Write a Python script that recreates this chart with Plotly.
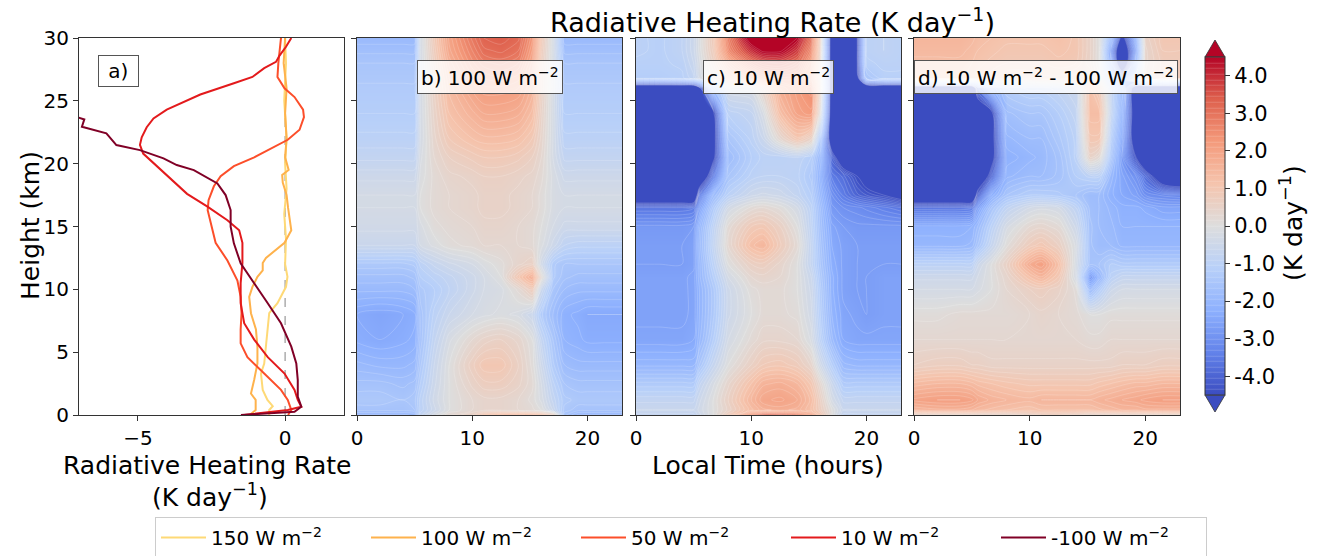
import plotly.graph_objects as go

W, H = 1320, 556
def px(x): return x / W
def py(y): return 1 - y / H

# ---------------- Panel a: profiles ----------------
rate_150 = [-0.54, -0.54, -0.42, -0.6, -0.76, -0.82, -0.71, -0.65, -0.59, -0.54, -0.26, 0.03, 0.08, 0.0, 0.03, -0.03, 0.05, 0.0, 0.05, -0.03, 0.03, 0.0]
height_150 = [0, 0.4, 0.7, 1.2, 2.0, 3.3, 4.1, 5.4, 6.8, 8.1, 8.9, 10.2, 11, 12, 14, 16, 18, 20, 22, 25, 28, 30]

rate_100 = [-1.2, -1.0, -1.0, -1.16, -1.05, -0.94, -0.94, -0.99, -1.16, -1.22, -1.11, -0.94, -0.76, -0.76, -0.65, -0.37, -0.02, 0.21, 0.15, 0.1, 0.05, -0.08, -0.1, 0.12, 0.0, 0.05, 0.0, 0.05, -0.05, 0.0]
height_100 = [0, 0.4, 1.2, 1.7, 2.8, 4.1, 5.4, 6.8, 8.1, 9.4, 10.2, 11.0, 11.5, 12.1, 12.5, 13.0, 13.7, 14.7, 15.5, 16.5, 17.5, 18.5, 19.1, 19.5, 20.5, 22, 24, 26, 28, 30]

rate_50 = [0.1, 0.21, 0.09, -0.14, -0.71, -1.28, -1.51, -1.51, -1.48, -1.51, -1.62, -1.96, -2.36, -2.53, -2.63, -2.6, -2.42, -2.19, -1.74, -1.05, -0.37, 0.09, 0.49, 0.64, 0.61, 0.32, -0.02, -0.26, -0.23, -0.14]
height_50 = [0, 0.4, 1.2, 2.0, 3.3, 4.6, 5.7, 6.8, 8.1, 9.4, 10.7, 12.3, 13.7, 15.3, 16.3, 17.1, 18.2, 19.0, 19.8, 20.5, 21.3, 21.9, 22.7, 23.7, 24.3, 25.3, 26.0, 26.9, 28.0, 30.0]

rate_10 = [-1.39, 0.09, 0.55, 0.43, 0.32, -0.02, -0.59, -1.05, -1.39, -1.51, -1.51, -1.45, -1.45, -1.56, -1.96, -2.65, -3.33, -3.90, -4.47, -4.82, -4.93, -4.87, -4.70, -4.47, -4.02, -2.88, -1.74, -1.11, -0.71, -0.31, -0.19, 0.03, 0.21]
height_10 = [0, 0.4, 0.66, 1.2, 2.0, 3.3, 4.6, 6.0, 7.3, 8.9, 10.5, 12.1, 13.7, 14.7, 15.5, 16.6, 17.6, 18.8, 20.0, 20.8, 21.5, 22.1, 22.9, 23.6, 24.3, 25.5, 26.4, 26.9, 27.6, 28.1, 28.6, 29.3, 30.0]

rate_m100 = [-1.5, 0.32, 0.55, 0.43, 0.43, 0.38, 0.21, -0.14, -0.59, -1.05, -1.51, -1.74, -1.85, -1.85, -2.02, -2.3, -3.1, -3.68, -4.13, -4.93, -5.73, -6.07, -6.9, -6.82, -7.03, -8.2, -9.0]
height_m100 = [0, 0.26, 0.66, 1.46, 2.78, 4.11, 5.44, 7.30, 8.89, 10.48, 12.07, 13.66, 14.98, 16.31, 17.50, 18.43, 19.49, 19.89, 20.42, 21.08, 21.48, 22.41, 22.94, 23.52, 23.68, 24.5, 30.0]

profile_names = ["150 W m<sup>−2</sup>", "100 W m<sup>−2</sup>", "50 W m<sup>−2</sup>", "10 W m<sup>−2</sup>", "-100 W m<sup>−2</sup>"]
profile_colors = ["#fed976", "#feb24c", "#fc4e2a", "#e31a1c", "#800026"]

# ---------------- Panels b-d: time-height fields ----------------
local_time = [0, 2, 4, 5, 5.5, 6.7, 8, 10, 11, 12.5, 14, 15.2, 16, 17, 18, 19.2, 20, 21.5, 23]
height_km = [0, 0.4, 1.2, 2.5, 4, 6, 8, 10, 11, 12, 13.5, 15, 16.5, 17.5, 19, 20.5, 22, 24, 26, 26.8, 28, 29, 30]

rate_100W = [
    [-2.0,-2.0,-2.0,-1.9, -0.8,-0.2,0.3,0.6,1.2,1.6,1.7,1.6,1.4,0.8, -1.6,-2.0,-2.0,-2.0,-2.0],
    [-1.6,-1.6,-1.6,-1.5, -1.0,-0.5,0,0.3,0.4,0.4,0.3,0.2,0,-0.6, -1.4,-1.6,-1.6,-1.6,-1.6],
    [-1.4,-1.4,-1.5,-1.4, -1.0,-0.4,0,0.3,0.4,0.4,0.3,0.1,-0.2,-0.8, -1.3,-1.4,-1.4,-1.4,-1.4],
    [-1.6,-1.6,-1.7,-1.6, -1.2,-0.5,0,0.5,0.7,0.7,0.5,0.2,-0.3,-1.0, -1.5,-1.6,-1.6,-1.6,-1.6],
    [-1.9,-2.0,-2.0,-1.9, -1.4,-0.6,0,0.7,1.0,1.0,0.6,0.1,-0.5,-1.3, -1.8,-1.9,-1.9,-1.9,-1.9],
    [-2.3,-2.4,-2.3,-2.2, -1.6,-0.8,-0.2,0.3,0.5,0.6,0.4,0,-0.8,-1.5, -2.1,-2.2,-2.3,-2.3,-2.3],
    [-2.4,-2.5,-2.4,-2.3, -1.6,-1.0,-0.6,-0.3,-0.2,-0.1,-0.2,-0.6,-1.3,-1.8, -2.2,-2.3,-2.4,-2.4,-2.4],
    [-1.9,-1.9,-1.9,-1.8, -1.4,-1.2,-0.9,-0.5,-0.3,-0.2,0.2,0.8,-0.6,-1.5, -1.8,-1.9,-1.9,-1.9,-1.9],
    [-1.7,-1.7,-1.7,-1.6, -1.2,-1.0,-0.8,-0.5,-0.3,0.0,1.0,1.7,0.2,-1.3, -1.6,-1.7,-1.7,-1.7,-1.7],
    [-1.4,-1.4,-1.4,-1.3, -1.0,-0.7,-0.5,-0.3,-0.1,0.1,0.4,0.6,-0.4,-1.3, -1.5,-1.5,-1.5,-1.5,-1.5],
    [-0.6,-0.6,-0.6,-0.6, -0.3,-0.1,0.1,0.2,0.3,0.3,0.3,0.2,-0.1,-0.5, -0.9,-1.0,-1.0,-1.0,-1.0],
    [-0.4,-0.4,-0.4,-0.4, -0.2,0.1,0.2,0.3,0.4,0.4,0.3,0.2,0,-0.3, -0.5,-0.5,-0.5,-0.5,-0.5],
    [-0.3,-0.3,-0.3,-0.3, 0,0.2,0.3,0.4,0.5,0.5,0.4,0.3,0.1,-0.2, -0.3,-0.3,-0.3,-0.3,-0.3],
    [-0.3,-0.3,-0.3,-0.3, 0,0.2,0.3,0.4,0.5,0.5,0.4,0.3,0.1,-0.2, -0.3,-0.3,-0.3,-0.3,-0.3],
    [-0.5,-0.5,-0.5,-0.5, -0.1,0.2,0.4,0.5,0.6,0.6,0.5,0.4,0.2,-0.2, -0.5,-0.5,-0.5,-0.5,-0.5],
    [-0.8,-0.8,-0.8,-0.8, -0.2,0.3,0.6,0.8,0.9,0.9,0.8,0.6,0.3,-0.3, -0.8,-0.8,-0.8,-0.8,-0.8],
    [-1.0,-1.0,-1.0,-1.0, -0.3,0.4,0.9,1.2,1.3,1.3,1.2,0.9,0.4,-0.3, -1.0,-1.0,-1.0,-1.0,-1.0],
    [-1.2,-1.2,-1.2,-1.2, -0.3,0.5,1.2,1.6,1.8,1.8,1.7,1.3,0.5,-0.3, -1.2,-1.2,-1.2,-1.2,-1.2],
    [-1.3,-1.3,-1.3,-1.3, -0.3,0.6,1.4,2.0,2.2,2.2,2.1,1.6,0.6,-0.3, -1.3,-1.3,-1.3,-1.3,-1.3],
    [-1.4,-1.4,-1.4,-1.4, -0.3,0.6,1.5,2.2,2.4,2.5,2.3,1.7,0.6,-0.3, -1.4,-1.4,-1.4,-1.4,-1.4],
    [-1.5,-1.5,-1.5,-1.5, -0.3,0.7,1.7,2.5,2.8,2.9,2.7,1.9,0.7,-0.3, -1.5,-1.5,-1.5,-1.5,-1.5],
    [-1.7,-1.7,-1.7,-1.7, -0.3,0.8,1.9,2.7,3.1,3.2,3.0,2.1,0.8,-0.3, -1.7,-1.7,-1.7,-1.7,-1.7],
    [-1.9,-1.9,-1.9,-1.9, -0.3,0.9,2.0,2.9,3.3,3.4,3.2,2.3,0.9,-0.3, -1.9,-1.9,-1.9,-1.9,-1.9],
]

rate_10W = [
    [-0.8,-0.8,-0.8,-0.8, -0.5,0,0.8,2.5,3.5,3.5,3.0,2.0,1.0,0, -0.8,-0.8,-0.8,-0.8,-0.8],
    [-0.6,-0.6,-0.6,-0.6, -0.4,0,0.5,1.3,1.6,1.7,1.6,1.2,0.7,0, -0.6,-0.6,-0.6,-0.6,-0.6],
    [-0.8,-0.8,-0.8,-0.8, -0.5,0,0.6,1.5,1.9,2.0,1.8,1.3,0.6,-0.3, -0.8,-0.8,-0.8,-0.8,-0.8],
    [-1.3,-1.3,-1.3,-1.3, -0.8,-0.2,0.4,1.2,1.6,1.7,1.5,1.0,0.3,-0.6, -1.3,-1.3,-1.3,-1.3,-1.3],
    [-2.0,-2.0,-2.0,-2.0, -1.5,-0.7,0,0.6,0.9,1.0,0.8,0.4,-0.4,-1.2, -1.9,-2.0,-2.0,-2.0,-2.0],
    [-2.5,-2.5,-2.5,-2.4, -2.0,-1.2,-0.3,0.2,0.4,0.4,0.3,-0.2,-1.0,-1.9, -2.4,-2.5,-2.5,-2.5,-2.5],
    [-2.6,-2.6,-2.6,-2.5, -2.1,-1.4,-0.5,0.0,0.2,0.2,0.1,-0.4,-1.2,-2.1, -2.5,-2.6,-2.7,-2.6,-2.6],
    [-2.6,-2.6,-2.6,-2.5, -2.1,-1.4,-0.5,0.1,0.2,0.2,0.0,-0.5,-1.3,-2.2, -2.6,-2.7,-2.7,-2.6,-2.6],
    [-2.6,-2.6,-2.6,-2.5, -2.0,-1.2,-0.3,0.3,0.4,0.3,0.0,-0.6,-1.4,-2.2, -2.6,-2.7,-2.7,-2.6,-2.6],
    [-2.7,-2.7,-2.7,-2.6, -2.0,-1.0,0.0,0.6,0.7,0.4,0.0,-0.8,-1.5,-2.3, -2.6,-2.7,-2.7,-2.7,-2.7],
    [-2.7,-2.7,-2.7,-2.6, -1.9,-0.8,0.3,1.3,1.5,0.8,0.2,-0.8,-1.6,-2.4, -2.6,-2.7,-2.7,-2.7,-2.7],
    [-2.8,-2.8,-2.8,-2.7, -2.0,-0.9,0.2,0.9,1.0,0.6,0.0,-0.9,-1.7,-2.5, -2.7,-2.8,-2.8,-2.8,-2.8],
    [-3.6,-3.6,-3.6,-3.5, -2.6,-1.3,-0.3,0.2,0.3,0.1,-0.3,-1.0,-1.8,-2.8, -3.0,-3.1,-3.2,-3.4,-3.6],
    [-6,-6,-6,-6, -3.5,-1.8,-1.0,-0.5,-0.4,-0.5,-0.8,-1.2,-2.0,-3.0, -3.5,-4.0,-4.2,-4.5,-5.0],
    [-6,-6,-6,-6, -6,-3.5,-1.5,-1.0,-0.9,-0.9,-1.0,-1.4,-2.2,-3.5, -3.8,-4.5,-5.0,-6,-6],
    [-6,-6,-6,-6, -6,-4.8,-1.8,-1.2,-1.0,-1.0,-0.9,-1.2,-2.0,-4.0, -5.5,-6,-6,-6,-6],
    [-6,-6,-6,-6, -6,-5.0,-1.5,-1.0,-0.6,0.3,1.0,0.5,-1.5,-5.5, -6,-6,-6,-6,-6],
    [-6,-6,-6,-6, -6,-4.8,-1.0,-0.8,-0.2,1.3,2.0,2.2,0.0,-5.5, -6,-6,-6,-6,-6],
    [-6,-6,-6,-6, -4.8,-1.5,-0.3,-0.2,0.5,1.8,2.2,2.5,0.5,-5.5, -6,-6,-6,-6,-6],
    [-1.2,-1.2,-1.1,-0.8, -0.3,0.3,1.0,1.8,2.3,2.5,2.4,1.8,0.3,-5.5, -6,-5,-1.5,-1.1,-1.1],
    [-1.1,-1.1,-1.0,-0.6, -0.2,0.6,1.7,3.0,3.4,3.5,3.1,2.0,0.4,-5.5, -6,-4.5,-1.1,-1.0,-1.0],
    [-1.0,-1.1,-0.9,-0.5, -0.1,0.8,2.5,4.0,4.6,4.6,3.8,2.5,0.5,-5.5, -6,-4.5,-1.0,-0.9,-1.0],
    [-1.0,-1.1,-0.9,-0.5, -0.1,0.9,2.8,5.0,5.5,5.5,4.5,3.0,0.6,-5.5, -6,-4.5,-1.0,-0.9,-1.0],
]

rate_diff = [
    [0.3,0.3,0.3,0.3, 0.3,0.3,0.3,0.5,0.6,0.6,0.5,0.3,0.3,0.3, 0.3,0.3,0.3,0.3,0.3],
    [1.5,1.6,1.6,1.5, 1.4,1.3,1.2,1.1,1.2,1.2,1.2,1.2,1.3,1.4, 1.5,1.5,1.6,1.6,1.6],
    [2.0,2.1,2.1,2.0, 1.8,1.6,1.5,1.4,1.5,1.5,1.5,1.5,1.6,1.7, 1.8,1.9,2.0,2.1,2.1],
    [1.4,1.5,1.5,1.4, 1.3,1.2,1.1,1.0,1.0,1.0,1.0,1.0,1.1,1.2, 1.3,1.4,1.4,1.5,1.5],
    [0.6,0.7,0.7,0.6, 0.6,0.5,0.5,0.5,0.5,0.5,0.5,0.5,0.5,0.5, 0.6,0.6,0.6,0.7,0.7],
    [0.3,0.3,0.3,0.3, 0.3,0.3,0.3,0.3,0.3,0.3,0.3,0.2,0.2,0.3, 0.3,0.3,0.3,0.3,0.3],
    [0.1,0.1,0.2,0.2, 0.2,0.2,0.2,0.3,0.4,0.3,0.2,0.0,0.0,0.1, 0.1,0.1,0.1,0.1,0.1],
    [-0.3,-0.3,-0.3,-0.3, -0.2,0.0,0.3,0.6,0.7,0.5,0.1,-1.8,-1.2,-0.5, -0.3,-0.3,-0.3,-0.3,-0.3],
    [-0.5,-0.5,-0.5,-0.5, -0.3,0.0,0.4,1.2,1.5,0.9,-0.3,-2.8,-2.0,-1.0, -0.7,-0.7,-0.7,-0.7,-0.7],
    [-1.0,-1.0,-1.0,-1.0, -0.5,0.0,0.6,1.8,2.1,1.2,-0.3,-1.6,-1.5,-1.2, -1.3,-1.3,-1.3,-1.3,-1.3],
    [-2.0,-2.0,-2.0,-1.9, -1.5,-0.7,0.1,0.8,1.0,0.6,-0.2,-1.6,-1.8,-1.8, -2.0,-2.0,-2.0,-2.0,-2.0],
    [-2.2,-2.2,-2.2,-2.1, -1.8,-1.0,-0.2,0.3,0.4,0.2,-0.5,-1.6,-1.8,-1.9, -2.1,-2.1,-2.1,-2.1,-2.1],
    [-3.6,-3.6,-3.6,-3.5, -2.5,-1.5,-0.8,-0.3,-0.2,-0.3,-0.9,-1.7,-1.8,-2.0, -2.2,-2.2,-2.3,-2.5,-2.5],
    [-6,-6,-6,-6, -4.0,-2.2,-1.5,-1.2,-1.2,-1.3,-1.5,-1.8,-1.8,-2.2, -2.4,-2.6,-3.0,-3.2,-3.3],
    [-6,-6,-6,-6, -6,-4.0,-2.0,-1.8,-1.8,-1.6,-1.2,-1.0,-1.0,-2.0, -2.5,-3.0,-3.8,-5.5,-6],
    [-6,-6,-6,-6, -6,-5.0,-2.2,-2.0,-1.9,-1.6,-1.0,0.5,0.2,-1.5, -2.8,-4.5,-6,-6,-6],
    [-6,-6,-6,-6, -6,-5.0,-2.0,-1.8,-1.8,-1.4,-1.0,1.0,1.0,-1.2, -2.5,-5.5,-6,-6,-6],
    [-6,-6,-6,-6, -6,-4.8,-1.7,-1.5,-1.5,-1.2,-0.8,1.3,1.3,-0.8, -2.2,-5.5,-6,-6,-6],
    [-6,-6,-6,-6, -3.5,-1.8,-1.2,-1.0,-1.0,-0.8,-0.6,1.2,0.8,-0.8, -2.0,-5.5,-6,-6,-6],
    [1.2,1.2,1.2,1.1, 1.0,0.8,0.6,0.6,0.7,0.7,0.5,0.8,0.2,-1.5, -3.0,-1.0,0.5,0.8,0.8],
    [1.3,1.3,1.3,1.2, 1.1,1.0,0.9,0.9,0.9,1.0,0.9,0.5,0.0,-2.5, -6,-2.0,0.4,0.8,0.8],
    [1.4,1.4,1.4,1.3, 1.2,1.1,1.0,1.0,1.0,1.1,1.0,0.5,0.0,-3.0, -6,-2.5,0.4,0.9,0.9],
    [1.5,1.5,1.5,1.4, 1.3,1.2,1.1,1.1,1.1,1.2,1.0,0.5,0.0,-2.0, -5,-2.0,0.5,1.0,1.0],
]

cbar_ticks = [-4, -3, -2, -1, 0, 1, 2, 3, 4]
cbar_ticktext = ["-4.0", "-3.0", "-2.0", "-1.0", "0.0", "1.0", "2.0", "3.0", "4.0"]

coolwarm = [
    [0.0, "rgb(59,76,192)"], [0.125, "rgb(98,130,234)"], [0.25, "rgb(141,176,254)"],
    [0.375, "rgb(184,208,249)"], [0.5, "rgb(221,221,221)"], [0.625, "rgb(245,196,173)"],
    [0.75, "rgb(244,154,123)"], [0.875, "rgb(222,96,77)"], [1.0, "rgb(180,4,38)"],
]

FONT = "DejaVu Sans"
fig = go.Figure()

profiles = [(rate_150, height_150), (rate_100, height_100), (rate_50, height_50),
            (rate_10, height_10), (rate_m100, height_m100)]
for (r, h), name, col in zip(profiles, profile_names, profile_colors):
    fig.add_trace(go.Scatter(x=r, y=h, mode="lines", name=name,
                             line=dict(color=col, width=2), xaxis="x", yaxis="y"))

fields = [rate_100W, rate_10W, rate_diff]
for i, z in enumerate(fields):
    ax = str(i + 2)
    kw = dict(
        x=local_time, y=height_km, z=z, zmin=-4.5, zmax=4.5, zauto=False,
        colorscale=coolwarm,
        contours=dict(coloring="heatmap", start=-4.5, end=4.5, size=0.15, showlines=True),
        line=dict(width=0.5, color="rgba(255,255,255,0.35)"),
        showscale=(i == 2), showlegend=False, hoverinfo="skip",
        xaxis="x" + ax, yaxis="y" + ax,
    )
    if i == 2:
        kw["colorbar"] = dict(
            xref="container", yref="container",
            x=px(1205), xanchor="left", y=py((57 + 395) / 2), yanchor="middle",
            len=(395 - 57), lenmode="pixels", thickness=20, thicknessmode="pixels",
            outlinewidth=1, outlinecolor="#333", xpad=0, ypad=0,
            tickvals=cbar_ticks, ticktext=cbar_ticktext, ticks="outside", ticklen=5,
            tickcolor="#333", tickfont=dict(family=FONT, size=21, color="black"),
        )
    fig.add_trace(go.Contour(**kw))

axis_common = dict(showline=True, mirror=True, linecolor="#333", linewidth=1,
                   ticks="outside", ticklen=5, tickcolor="#333", showgrid=False,
                   zeroline=False, tickfont=dict(family=FONT, size=20, color="black"))
y_dom = [py(415), py(38)]
x_doms = [[px(79), px(344)], [px(357), px(622)], [px(636), px(901)], [px(914), px(1180)]]

layout = dict(
    width=W, height=H, margin=dict(l=0, r=0, t=0, b=0, autoexpand=False),
    paper_bgcolor="white", plot_bgcolor="white",
    font=dict(family=FONT, color="black"),
    legend=dict(orientation="h", xref="container", yref="container",
                x=px(155), xanchor="left", y=py(517), yanchor="top",
                bordercolor="#cccccc", borderwidth=1, bgcolor="white",
                itemwidth=45, entrywidth=150, entrywidthmode="pixels",
                font=dict(family=FONT, size=20, color="black"), tracegroupgap=0),
)
layout["xaxis"] = dict(domain=x_doms[0], anchor="y", range=[-7, 2], tickvals=[-5, 0],
                       ticktext=["−5", "0"], **axis_common)
layout["yaxis"] = dict(domain=y_dom, anchor="x", range=[0, 30], tickvals=[0, 5, 10, 15, 20, 25, 30],
                       **axis_common)
for i in range(1, 4):
    n = str(i + 1)
    layout["xaxis" + n] = dict(domain=x_doms[i], anchor="y" + n, range=[0, 23],
                               tickvals=[0, 10, 20], **axis_common)
    layout["yaxis" + n] = dict(domain=y_dom, anchor="x" + n, range=[0, 30],
                               tickvals=[0, 5, 10, 15, 20, 25, 30], showticklabels=False,
                               **axis_common)
fig.update_layout(**layout)

fig.add_shape(type="line", xref="x", yref="y", x0=0, x1=0, y0=0, y1=30,
              line=dict(color="#999999", width=1.2, dash="dash"), layer="below")

# colorbar extension triangles
fig.add_shape(type="path", xref="paper", yref="paper",
              path=f"M {px(1205)},{py(57)} L {px(1225)},{py(57)} L {px(1215)},{py(40)} Z",
              fillcolor="rgb(180,4,38)", line=dict(color="#333", width=0.8))
fig.add_shape(type="path", xref="paper", yref="paper",
              path=f"M {px(1205)},{py(395)} L {px(1225)},{py(395)} L {px(1215)},{py(412)} Z",
              fillcolor="rgb(59,76,192)", line=dict(color="#333", width=0.8))

def ann(text, x, y, size=25, angle=0, box=False):
    d = dict(text=text, x=px(x), y=py(y), xref="paper", yref="paper", showarrow=False,
             xanchor="center", yanchor="middle", textangle=angle,
             font=dict(family=FONT, size=size, color="black"))
    if box:
        d.update(bordercolor="#555", borderwidth=1, borderpad=3,
                 bgcolor="rgba(255,255,255,0.8)")
    fig.add_annotation(**d)

ann("Radiative Heating Rate (K day<sup>−1</sup>)", 772, 20, size=27)
ann("Height (km)", 30, 226, size=25, angle=-90)
ann("Radiative Heating Rate", 207, 465, size=25)
ann("(K day<sup>−1</sup>)", 210, 495, size=25)
ann("Local Time (hours)", 768, 465, size=25)
ann("(K day<sup>−1</sup>)", 1292, 223, size=25, angle=-90)
ann("\u00a0a)\u00a0", 118, 71, size=20, box=True)
ann("b) 100 W m<sup>−2</sup>", 490, 77, size=20, box=True)
ann("c) 10 W m<sup>−2</sup>", 768, 77, size=20, box=True)
ann("d) 10 W m<sup>−2</sup> - 100 W m<sup>−2</sup>", 1046, 77, size=20, box=True)

fig.write_html("out.html")
